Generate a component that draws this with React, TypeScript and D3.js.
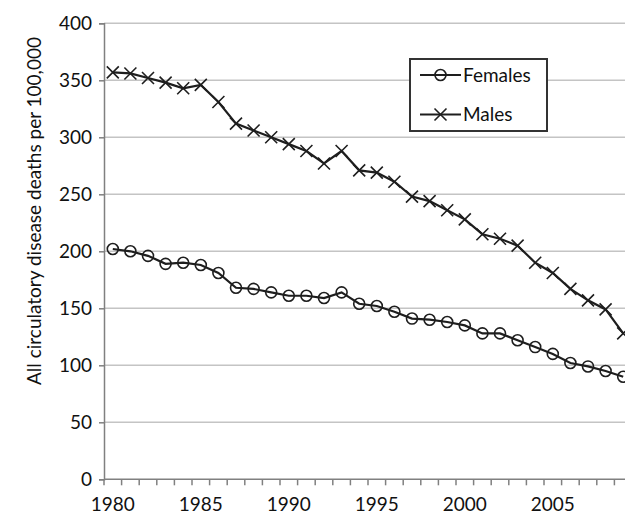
import React, { useRef, useEffect } from 'react';
import * as d3 from 'd3';

const years = d3.range(1980, 2010);
const females = [202, 200, 196, 189, 190, 188, 181, 168, 167, 164, 161, 161, 159, 164, 154, 152, 147, 141, 140, 138, 135, 128, 128, 122, 116, 110, 102, 99, 95, 90];
const males = [357, 356, 352, 348, 343, 346, 331, 312, 306, 300, 294, 288, 277, 288, 271, 269, 261, 248, 244, 236, 228, 215, 211, 205, 190, 181, 167, 157, 149, 128];
const yTicks = [0, 50, 100, 150, 200, 250, 300, 350, 400];
const yTitle = 'All circulatory disease deaths per 100,000';

const ink = '#1e1e1e';
const font = 'Lato, "Open Sans", sans-serif';

const App: React.FC = () => {
  const ref = useRef<SVGSVGElement>(null);

  useEffect(() => {
    const svg = d3.select(ref.current);
    svg.selectAll('*').remove();

    const x = d3.scaleBand<number>().domain(years).range([104, 632]).paddingInner(0).paddingOuter(0);
    const y = d3.scaleLinear().domain([0, 400]).range([479.3, 23.3]);
    const cx = (yr: number) => x(yr)! + x.bandwidth() / 2;

    // gridlines
    svg.append('g')
      .selectAll('line')
      .data(yTicks.filter(t => t > 0))
      .join('line')
      .attr('x1', 104).attr('x2', 632)
      .attr('y1', d => y(d)).attr('y2', d => y(d))
      .attr('stroke', '#c4c4c4').attr('stroke-width', 1.5);

    // y axis
    const yAxis = svg.append('g')
      .attr('transform', 'translate(104,0)')
      .call(d3.axisLeft(y).tickValues(yTicks).tickSize(5).tickPadding(7));
    yAxis.select('.domain').attr('stroke', '#808080').attr('stroke-width', 1.5);
    yAxis.selectAll('.tick line').attr('stroke', '#808080').attr('stroke-width', 1.5);
    yAxis.selectAll('.tick text').attr('font-family', font).attr('font-size', 19).attr('fill', '#111');

    // x axis
    const xg = svg.append('g');
    xg.append('line')
      .attr('x1', 104).attr('x2', 632)
      .attr('y1', y(0)).attr('y2', y(0))
      .attr('stroke', '#808080').attr('stroke-width', 1.5);
    xg.selectAll('line.tk')
      .data(years)
      .join('line')
      .attr('class', 'tk')
      .attr('x1', d => x(d)!).attr('x2', d => x(d)!)
      .attr('y1', y(0)).attr('y2', y(0) + 6)
      .attr('stroke', '#808080').attr('stroke-width', 1.5);
    xg.selectAll('text')
      .data(years.filter(d => d % 5 === 0))
      .join('text')
      .attr('x', d => cx(d))
      .attr('y', 510.5)
      .attr('text-anchor', 'middle')
      .attr('font-family', font).attr('font-size', 19).attr('fill', '#111')
      .text(d => d);

    // y title
    svg.append('text')
      .attr('transform', 'translate(41,211) rotate(-90)')
      .attr('text-anchor', 'middle')
      .attr('font-family', font).attr('font-size', 19).attr('fill', '#111')
      .text(yTitle);

    const line = d3.line<number>()
      .x((_, i) => cx(years[i]))
      .y(d => y(d));

    // males
    svg.append('path')
      .datum(males)
      .attr('fill', 'none').attr('stroke', ink).attr('stroke-width', 2.2)
      .attr('d', line);
    svg.append('g')
      .selectAll('path')
      .data(males)
      .join('path')
      .attr('d', (d, i) => {
        const px = cx(years[i]), py = y(d), s = 6;
        return `M${px - s},${py - s}L${px + s},${py + s}M${px - s},${py + s}L${px + s},${py - s}`;
      })
      .attr('stroke', ink).attr('stroke-width', 1.6).attr('fill', 'none');

    // females
    svg.append('path')
      .datum(females)
      .attr('fill', 'none').attr('stroke', ink).attr('stroke-width', 2.2)
      .attr('d', line);
    svg.append('g')
      .selectAll('circle')
      .data(females)
      .join('circle')
      .attr('cx', (_, i) => cx(years[i]))
      .attr('cy', d => y(d))
      .attr('r', 5.5)
      .attr('fill', 'none').attr('stroke', ink).attr('stroke-width', 1.6);

    // legend
    const lg = svg.append('g');
    lg.append('rect')
      .attr('x', 410).attr('y', 59).attr('width', 137).attr('height', 72)
      .attr('fill', 'white').attr('stroke', '#333').attr('stroke-width', 2);
    const items = [
      { name: 'Females', ly: 75 },
      { name: 'Males', ly: 114.5 }
    ];
    items.forEach(it => {
      lg.append('line')
        .attr('x1', 420).attr('x2', 461)
        .attr('y1', it.ly).attr('y2', it.ly)
        .attr('stroke', ink).attr('stroke-width', 2.2);
      if (it.name === 'Females') {
        lg.append('circle')
          .attr('cx', 440.5).attr('cy', it.ly).attr('r', 5.5)
          .attr('fill', 'none').attr('stroke', ink).attr('stroke-width', 1.6);
      } else {
        const s = 6;
        lg.append('path')
          .attr('d', `M${440.5 - s},${it.ly - s}L${440.5 + s},${it.ly + s}M${440.5 - s},${it.ly + s}L${440.5 + s},${it.ly - s}`)
          .attr('stroke', ink).attr('stroke-width', 1.6).attr('fill', 'none');
      }
      lg.append('text')
        .attr('x', 463).attr('y', it.ly + 6.5)
        .attr('font-family', font).attr('font-size', 19).attr('fill', '#111')
        .text(it.name);
    });
  }, []);

  return (
    <svg
      ref={ref}
      width={625}
      height={514}
      style={{ position: 'absolute', left: 0, top: 0, background: 'white' }}
    />
  );
};

export default App;
